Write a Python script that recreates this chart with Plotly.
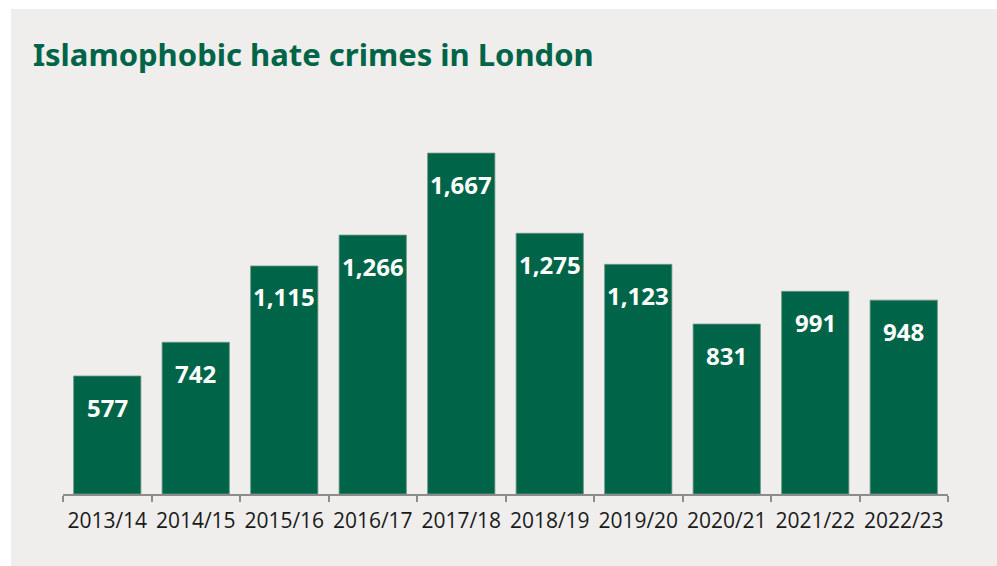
import plotly.graph_objects as go

years = ["2013/14", "2014/15", "2015/16", "2016/17", "2017/18",
         "2018/19", "2019/20", "2020/21", "2021/22", "2022/23"]
crimes = [577, 742, 1115, 1266, 1667, 1275, 1123, 831, 991, 948]
title_text = "Islamophobic hate crimes in London"

W, H = 997, 566
ML, MR, MT, MB = 63, 49, 100, 72
PW, PH = W - ML - MR, H - MT - MB

GREEN = "#006548"
BG = "#efeeec"

fig = go.Figure()
fig.add_trace(go.Bar(
    x=years, y=crimes,
    marker=dict(color=GREEN, line=dict(color="#6f9484", width=0.8)),
    width=0.76,
    hoverinfo="x+y",
))

for yr, v in zip(years, crimes):
    fig.add_annotation(x=yr, y=v, text=f"<b>{v:,}</b>", showarrow=False,
                       yanchor="middle", yshift=-31,
                       font=dict(family="Open Sans", size=24, color="white"))

def px_to_paper_x(p):
    return (p - ML) / PW

def px_to_paper_y(p):
    return (H - MB - p) / PH

fig.add_shape(type="rect", xref="paper", yref="paper", layer="below",
              x0=px_to_paper_x(11), x1=px_to_paper_x(W + 2),
              y0=px_to_paper_y(H + 2), y1=px_to_paper_y(9),
              fillcolor=BG, line=dict(width=0))

fig.update_layout(
    width=W, height=H,
    margin=dict(l=ML, r=MR, t=MT, b=MB),
    paper_bgcolor="white",
    plot_bgcolor="rgba(0,0,0,0)",
    showlegend=False,
    title=dict(text=f"<b>{title_text}</b>", xref="container", yref="container",
               x=33 / W, xanchor="left", y=1 - 55 / H, yanchor="middle",
               font=dict(family="Noto Sans", size=31, color=GREEN)),
    xaxis=dict(showline=True, linecolor="#8c8c8c", linewidth=1.5,
               ticks="outside", tickson="boundaries", ticklen=6,
               tickcolor="#8c8c8c", tickwidth=1.5,
               ticklabelstandoff=7, tickangle=0, automargin=False,
               tickfont=dict(family="Open Sans", size=21, color="#1a1a1a"),
               showgrid=False, zeroline=False),
    yaxis=dict(range=[0, PH / 0.2045], visible=False, showgrid=False,
               zeroline=False, automargin=False),
    bargap=0.24,
)

fig.write_html("out.html")
